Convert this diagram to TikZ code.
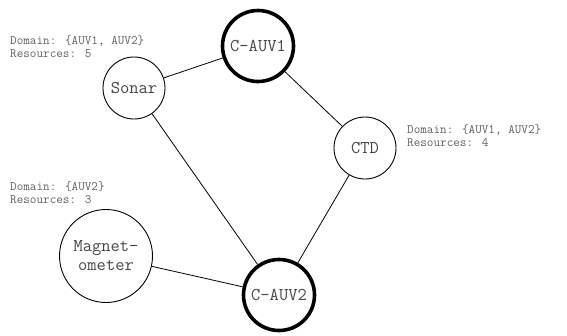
\documentclass[tikz,border=0pt]{standalone}
\usetikzlibrary{positioning}

\definecolor{txtgray}{RGB}{95,95,95}
\definecolor{lblgray}{RGB}{70,70,70}

\begin{document}
\begin{tikzpicture}[
	x=1pt, y=-1pt,
	sensor/.style={circle, draw, line width=0.9pt, minimum size=62pt, inner sep=1pt, align=center, font=\ttfamily\fontsize{18}{19}\selectfont, text=lblgray},
	auv/.style={sensor, line width=3.6pt, minimum size=71pt},
	info/.style={anchor=north west, align=left, inner sep=0pt, font=\ttfamily\fontsize{12.8}{13.5}\selectfont, text=txtgray},
	link/.style={draw, line width=0.8pt},
	]
	\useasboundingbox (0,0) rectangle (567,335);
	
	% vehicles
	\node[auv] (auv1) at (258,46) {C-AUV1};
	\node[auv] (auv2) at (279,295) {C-AUV2};
	
	% payloads
	\node[sensor] (sonar) at (134,88) {Sonar};
	\node[sensor] (ctd) at (365,148) {CTD};
	\node[sensor, minimum size=93pt] (mag) at (106,256) {Magnet-\\ometer};
	
	% domain and resource notes
	\node[info] (sonarinfo) at (10,35) {Domain: \{AUV1, AUV2\}\\Resources: 5};
	\node[info] (ctdinfo) at (407,124) {Domain: \{AUV1, AUV2\}\\Resources: 4};
	\node[info] (maginfo) at (10,181) {Domain: \{AUV2\}\\Resources: 3};
	
	\draw[link] (sonar) -- (auv1);
	\draw[link] (auv1) -- (ctd);
	\draw[link] (ctd) -- (auv2);
	\draw[link] (sonar) -- (auv2);
	\draw[link] (mag) -- (auv2);
	
\end{tikzpicture}
\end{document}
